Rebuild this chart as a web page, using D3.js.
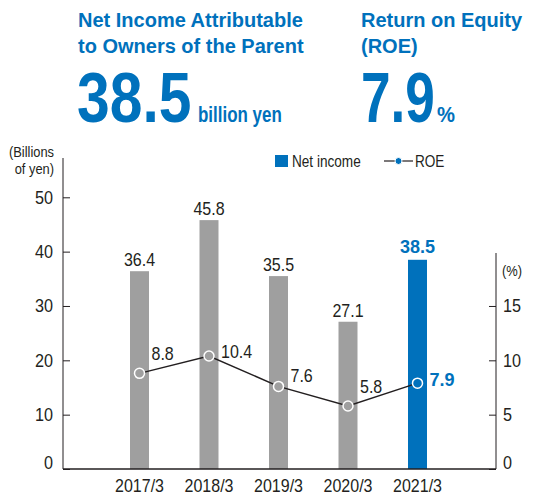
<!DOCTYPE html>
<html>
<head>
<meta charset="utf-8">
<script src="https://cdn.jsdelivr.net/npm/d3@7/dist/d3.min.js"></script>
<style>
body { margin: 0; background: #fff; }
text { font-family: "Liberation Sans", Arial, sans-serif; }
</style>
</head>
<body>
<script>
// chart data
var years = ['2017/3', '2018/3', '2019/3', '2020/3', '2021/3'];
var netIncome = [36.4, 45.8, 35.5, 27.1, 38.5];
var roe = [8.8, 10.4, 7.6, 5.8, 7.9];
var leftTicks = [0, 10, 20, 30, 40, 50];
var rightTicks = [0, 5, 10, 15];

var blue = '#0071bc';
var gray = '#9f9f9f';
var dark = '#231f20';

var W = 534, H = 497;
var left = 63, right = 496, base = 469;

var svg = d3.select('body').append('svg')
	.attr('width', W)
	.attr('height', H);

// small helper, the source font is a condensed grotesque so text is squeezed a bit
function txt(g, x, y, s, o) {
	o = o || {};
	return g.append('text')
		.attr('transform', `translate(${x},${y}) scale(${o.sx || 1},1)`)
		.attr('text-anchor', o.anchor || 'start')
		.attr('font-size', o.size || 18)
		.attr('font-weight', o.weight || 'normal')
		.attr('fill', o.fill || dark)
		.text(s);
}

var last = years.length - 1;

// header
var head = svg.append('g');
txt(head, 78, 27, 'Net Income Attributable', {size: 20, weight: 'bold', fill: blue});
txt(head, 78, 53, 'to Owners of the Parent', {size: 20, weight: 'bold', fill: blue});
txt(head, 77, 122, netIncome[last].toFixed(1), {size: 70, weight: 'bold', fill: blue, sx: 0.84});
txt(head, 198, 122, 'billion yen', {size: 22, weight: 'bold', fill: blue, sx: 0.77});
txt(head, 361, 27, 'Return on Equity', {size: 20, weight: 'bold', fill: blue});
txt(head, 361, 53, '(ROE)', {size: 20, weight: 'bold', fill: blue});
txt(head, 361, 122, roe[last].toFixed(1), {size: 70, weight: 'bold', fill: blue, sx: 0.76});
txt(head, 437, 122, '%', {size: 22, weight: 'bold', fill: blue, sx: 0.92});

// scales
var x = d3.scalePoint().domain(years).range([139.5, 417.5]);
var yL = d3.scaleLinear().domain([0, 50]).range([base, 197.3]);
var yR = d3.scaleLinear().domain([0, 15]).range([base, yL(30)]);

// axes
var gL = svg.append('g')
	.attr('transform', `translate(${left},0)`)
	.call(d3.axisLeft(yL).tickValues(leftTicks).tickSize(-7).tickPadding(10));
var gR = svg.append('g')
	.attr('transform', `translate(${right},0)`)
	.call(d3.axisRight(yR).tickValues(rightTicks).tickSize(-7).tickPadding(7));

[gL, gR].forEach(function(g) {
	g.select('.domain').remove();
	g.selectAll('.tick line').attr('stroke', dark).attr('stroke-width', 1);
	g.selectAll('.tick text')
		.attr('font-size', 18)
		.attr('font-family', '"Liberation Sans", Arial, sans-serif')
		.attr('fill', dark)
		.attr('dy', d => d === 0 ? '-0.02em' : '0.32em');
});
gL.selectAll('.tick text').attr('x', 0).attr('transform', 'translate(-10,0) scale(0.9,1)');
gR.selectAll('.tick text').attr('x', 0).attr('transform', 'translate(7,0) scale(0.9,1)');

svg.append('line')
	.attr('x1', left).attr('x2', left)
	.attr('y1', 158).attr('y2', base)
	.attr('stroke', dark).attr('stroke-width', 1);
svg.append('line')
	.attr('x1', right).attr('x2', right)
	.attr('y1', 253).attr('y2', base)
	.attr('stroke', dark).attr('stroke-width', 1);

// units
var units = svg.append('g');
txt(units, 54, 157, '(Billions', {size: 14, anchor: 'end', sx: 0.92});
txt(units, 54, 174, 'of yen)', {size: 14, anchor: 'end', sx: 0.92});
txt(units, 502, 276, '(%)', {size: 14, sx: 0.92});

// bars
var barW = 19;
svg.append('g').selectAll('rect')
	.data(netIncome)
	.join('rect')
	.attr('x', (d, i) => x(years[i]) - barW / 2)
	.attr('y', d => yL(d))
	.attr('width', barW)
	.attr('height', d => base - yL(d))
	.attr('fill', (d, i) => i === last ? blue : gray);

// baseline
svg.append('line')
	.attr('x1', left).attr('x2', right)
	.attr('y1', base).attr('y2', base)
	.attr('stroke', dark).attr('stroke-width', 1.5);

// bar values
var barLabels = svg.append('g');
netIncome.forEach(function(d, i) {
	if (i === last) {
		txt(barLabels, x(years[i]), yL(d) - 7, d.toFixed(1), {size: 19, weight: 'bold', fill: blue, anchor: 'middle', sx: 0.95});
	} else {
		txt(barLabels, x(years[i]), yL(d) - 5, d.toFixed(1), {anchor: 'middle', sx: 0.89});
	}
});

// ROE line
var line = d3.line()
	.x((d, i) => x(years[i]))
	.y(d => yR(d));
svg.append('path')
	.datum(roe)
	.attr('d', line)
	.attr('fill', 'none')
	.attr('stroke', dark)
	.attr('stroke-width', 1.5);

svg.append('g').selectAll('circle')
	.data(roe)
	.join('circle')
	.attr('cx', (d, i) => x(years[i]))
	.attr('cy', d => yR(d))
	.attr('r', 5)
	.attr('fill', (d, i) => i === last ? blue : gray)
	.attr('stroke', '#fff')
	.attr('stroke-width', 1.5);

// ROE values, nudged around the line like the original
var roeDy = [-13, 2, -4, -13, 3];
var roeLabels = svg.append('g');
roe.forEach(function(d, i) {
	if (i === last) {
		txt(roeLabels, x(years[i]) + 12, yR(d) + roeDy[i], d.toFixed(1), {size: 19, weight: 'bold', fill: blue, sx: 0.95});
	} else {
		txt(roeLabels, x(years[i]) + 12, yR(d) + roeDy[i], d.toFixed(1), {sx: 0.89});
	}
});

// year labels
var xLabels = svg.append('g');
years.forEach(function(d) {
	txt(xLabels, x(d), 492, d, {anchor: 'middle', sx: 0.89});
});

// legend
var legend = svg.append('g');
legend.append('rect')
	.attr('x', 275).attr('y', 155)
	.attr('width', 13).attr('height', 12)
	.attr('fill', blue);
txt(legend, 292, 167, 'Net income', {size: 16, sx: 0.85});
legend.append('line')
	.attr('x1', 384).attr('x2', 413)
	.attr('y1', 161).attr('y2', 161)
	.attr('stroke', dark).attr('stroke-width', 1.2);
legend.append('circle')
	.attr('cx', 398.5).attr('cy', 161)
	.attr('r', 3.5)
	.attr('fill', blue)
	.attr('stroke', '#fff')
	.attr('stroke-width', 1);
txt(legend, 415, 167, 'ROE', {size: 16, sx: 0.85});
</script>
</body>
</html>
